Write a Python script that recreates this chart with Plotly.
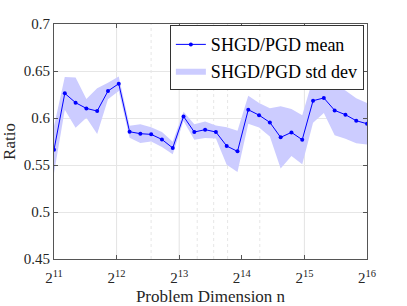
import numpy as np
import plotly.graph_objects as go

# Problem dimension n (samples)
n_values = [2048, 2308, 2601, 2931, 3303, 3723, 4195, 4728, 5328, 6004,
            6767, 7625, 8593, 9684, 10914, 12299, 13860, 15620, 17601, 19836,
            22354, 25192, 28390, 31994, 36062, 40640, 45803, 51613, 58166, 65536]

mean_ratio = [0.5663, 0.6262, 0.6163, 0.6102, 0.6074, 0.6287, 0.6365, 0.5854, 0.5833, 0.5826,
              0.5772, 0.5681, 0.6017, 0.5851, 0.5876, 0.5851, 0.5702, 0.5645, 0.6088, 0.6030,
              0.5953, 0.5794, 0.5847, 0.5769, 0.6184, 0.6213, 0.6081, 0.6035, 0.5971, 0.5939]

std_ratio = [0.0250, 0.0174, 0.0268, 0.0100, 0.0243, 0.0088, 0.0077, 0.0064, 0.0100, 0.0075,
             0.0080, 0.0066, 0.0050, 0.0083, 0.0088, 0.0070, 0.0199, 0.0220, 0.0150, 0.0130,
             0.0150, 0.0330, 0.0250, 0.0260, 0.0235, 0.0160, 0.0265, 0.0257, 0.0240, 0.0220]

tick_exponents = [11, 12, 13, 14, 15, 16]
tick_labels = ["2<sup>%d</sup>" % e for e in tick_exponents]
y_ticks = [0.45, 0.5, 0.55, 0.6, 0.65, 0.7]
y_tick_labels = ["0.45", "0.5", "0.55", "0.6", "0.65", "0.7"]
major_grid_n = [4096, 8192, 32768]
minor_grid_n = [6000, 10000, 12000, 14000, 20000]

x = np.log2(np.array(n_values, dtype=float))
m = np.array(mean_ratio)
s = np.array(std_ratio)
upper = m + s
lower = m - s

FONT = "Liberation Serif"
TXT = "#262626"

fig = go.Figure()
fig.add_trace(go.Scatter(
    x=np.concatenate([x, x[::-1]]),
    y=np.concatenate([upper, lower[::-1]]),
    fill="toself", fillcolor="rgb(204,204,255)",
    line=dict(width=0, color="rgba(0,0,0,0)"),
    mode="lines", name="SHGD/PGD std dev", legendrank=2, hoverinfo="skip"))
fig.add_trace(go.Scatter(
    x=x, y=m, mode="lines+markers", name="SHGD/PGD mean",
    line=dict(color="#0000ff", width=1),
    marker=dict(color="#0000ff", size=4, symbol="circle"),
    legendrank=1))

shapes = []
for v in major_grid_n:
    shapes.append(dict(type="line", xref="x", yref="paper", x0=np.log2(v), x1=np.log2(v),
                       y0=0, y1=1, layer="below", line=dict(color="#e3e3e3", width=1)))
for v in minor_grid_n:
    shapes.append(dict(type="line", xref="x", yref="paper", x0=np.log2(v), x1=np.log2(v),
                       y0=0, y1=1, layer="below", line=dict(color="#e6e6e6", width=1, dash="dot")))

fig.update_layout(
    width=407, height=306,
    margin=dict(l=54, r=39.5, t=24, b=46.5),
    paper_bgcolor="white", plot_bgcolor="white",
    font=dict(family=FONT, size=15, color=TXT),
    shapes=shapes,
    showlegend=True,
    legend=dict(x=0.99, y=0.995, xanchor="right", yanchor="top",
                bgcolor="white", bordercolor="#333333", borderwidth=1,
                font=dict(family=FONT, size=18, color="#000000"),
                tracegroupgap=0, itemwidth=30),
    xaxis=dict(range=[11, 16], tickvals=tick_exponents, ticktext=tick_labels,
               showgrid=False, zeroline=False, automargin=False,
               showline=True, linecolor="#555555", linewidth=1, mirror="ticks",
               ticks="inside", ticklen=4, tickcolor="#555555", ticklabelstandoff=5,
               tickfont=dict(family=FONT, size=15, color=TXT),
               title=dict(text="Problem Dimension n", font=dict(family=FONT, size=17, color=TXT), standoff=6)),
    yaxis=dict(range=[0.45, 0.7], tickvals=y_ticks, ticktext=y_tick_labels,
               showgrid=True, gridcolor="#e6e6e6", gridwidth=1, zeroline=False, automargin=False,
               showline=True, linecolor="#555555", linewidth=1, mirror="ticks",
               ticks="inside", ticklen=4, tickcolor="#555555",
               tickfont=dict(family=FONT, size=15, color=TXT),
               title=dict(text="Ratio", font=dict(family=FONT, size=17, color=TXT), standoff=6)),
)

fig.write_html("out.html", config={"displayModeBar": False},
               post_script="document.body.style.margin='0px';document.body.style.padding='0px';")
